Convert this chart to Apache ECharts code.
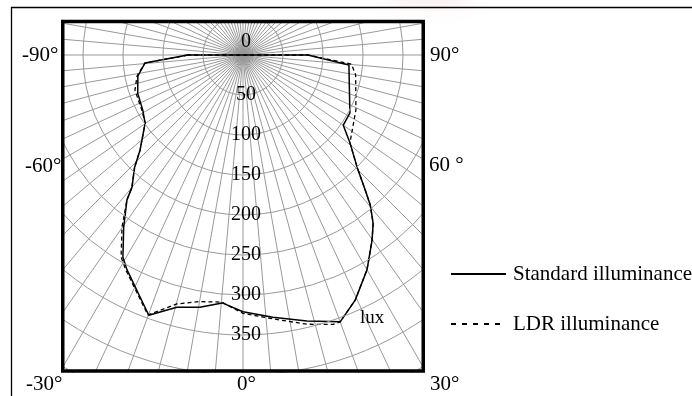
<!DOCTYPE html>
<html>
<head>
<meta charset="utf-8">
<script src="https://cdn.jsdelivr.net/npm/echarts@6/dist/echarts.min.js"></script>
<style>
html,body{margin:0;padding:0;background:#fff;}
#chart{width:692px;height:396px;}
</style>
</head>
<body>
<div id="chart"></div>
<script>
// Angles in degrees (0 = straight down, -90 = left, 90 = right); radius in lux
var standardAngle = [-90, -85.3, -78.7, -70.1, -61.2, -55.2, -47.3, -44.0, -40.0, -38.7, -34.7, -30.7, -28.4, -19.9, -14.7, -9.7, -4.8, 0, 6.5, 13.5, 20.0, 24.6, 30.0, 34.9, 37.7, 40.3, 42.1, 45.5, 50.6, 55.0, 61.5, 84.6, 90, -90];
var standardLux   = [69, 123, 134, 140, 143, 149, 175, 195, 216, 232, 262, 294, 305, 346, 326, 320, 311, 321, 330, 342, 355, 337, 310, 282, 266, 246, 228, 200, 173, 153, 152, 133, 81, 69];

var ldrAngle = [-90, -85.3, -78.8, -72.0, -61.4, -55.2, -47.3, -44.0, -40.0, -38.7, -35.1, -31.1, -28.6, -20.1, -14.9, -10.0, -4.9, 0, 6.5, 13.4, 18.5, 20.0, 24.6, 30.0, 34.9, 37.7, 40.3, 42.1, 45.5, 50.6, 64.0, 80.0, 85.2, 90, -90];
var ldrLux   = [69, 123, 135, 142, 144, 149, 175, 195, 216, 232, 263, 295, 306, 346, 322, 313, 310, 323, 332, 346, 355, 355, 337, 310, 282, 266, 246, 228, 200, 173, 157, 143, 136, 81, 69];

var seriesNames = ['Standard illuminance', 'LDR illuminance'];
var radiusTickMax = 350;
var angleLabels = ['-90°', '-60°', '-30°', '0°', '30°', '60 °', '90°'];
var unitLabel = 'lux';

function zipPolar(r, a) {
  var out = [];
  for (var i = 0; i < r.length; i++) out.push([r[i], a[i]]);
  return out;
}

var FONT = 'Liberation Serif';
var chart = echarts.init(document.getElementById('chart'), null, {renderer: 'canvas'});

function txt(s, x, y, align) {
  return {type: 'text', z: 120, style: {text: s, x: x, y: y, textAlign: align || 'left', textVerticalAlign: 'middle', font: '21px "' + FONT + '"', fill: '#000'}};
}

var option = {
  animation: false,
  backgroundColor: '#fff',
  polar: {center: [243, 55], radius: 400},
  angleAxis: {
    type: 'value', min: 0, max: 360, interval: 5, startAngle: 270, clockwise: false,
    axisLine: {show: false}, axisTick: {show: false}, axisLabel: {show: false},
    splitLine: {show: true, lineStyle: {color: '#999', width: 1}}
  },
  radiusAxis: {
    type: 'value', min: 0, max: 500, interval: 50, z: 5,
    axisLine: {show: false}, axisTick: {show: false},
    splitLine: {show: true, lineStyle: {color: '#999', width: 1}},
    axisLabel: {
      show: true, margin: 3, align: 'center', verticalAlign: 'middle',
      color: '#000', fontFamily: FONT, fontSize: 20,
      formatter: function (v) { return v === 0 ? '{z|0}' : (v <= radiusTickMax ? String(v) : ''); },
      rich: {z: {fontFamily: FONT, fontSize: 20, color: '#000', padding: [0, 0, 27, 0]}}
    }
  },
  legend: {
    orient: 'vertical', left: 445, top: 258, z: 130,
    itemWidth: 55, itemHeight: 14, itemGap: 28,
    itemStyle: {opacity: 0},
    textStyle: {fontFamily: FONT, fontSize: 21, color: '#000', lineHeight: 22, padding: [0, 0, 0, 2]},
    data: [
      {name: seriesNames[0]},
      {name: seriesNames[1], lineStyle: {type: [5, 6]}}
    ]
  },
  series: [
    {name: seriesNames[0], type: 'line', coordinateSystem: 'polar', symbol: 'none', z: 3,
     lineStyle: {color: '#000', width: 1.5, type: 'solid'}, itemStyle: {color: '#000'},
     data: zipPolar(standardLux, standardAngle)},
    {name: seriesNames[1], type: 'line', coordinateSystem: 'polar', symbol: 'none', z: 3,
     lineStyle: {color: '#000', width: 1.3, type: [4, 3]}, itemStyle: {color: '#000'},
     data: zipPolar(ldrLux, ldrAngle)}
  ],
  graphic: {elements: [
    {type: 'rect', z: 100, shape: {x: 0, y: 0, width: 692, height: 20}, style: {fill: '#fff'}},
    {type: 'rect', z: 100, shape: {x: 0, y: 0, width: 61, height: 396}, style: {fill: '#fff'}},
    {type: 'rect', z: 100, shape: {x: 425, y: 0, width: 267, height: 396}, style: {fill: '#fff'}},
    {type: 'rect', z: 100, shape: {x: 0, y: 373, width: 692, height: 23}, style: {fill: '#fff'}},
    {type: 'ellipse', z: 102, shape: {cx: 430, cy: -8, rx: 45, ry: 8}, style: {fill: 'rgba(245,205,212,0.5)', shadowBlur: 22, shadowColor: 'rgba(240,185,195,0.9)'}},
    {type: 'rect', z: 110, shape: {x: 62.75, y: 21.5, width: 360.5, height: 349.5}, style: {fill: null, stroke: '#000', lineWidth: 3.5}},
    {type: 'rect', z: 110, shape: {x: 11.5, y: 7.5, width: 900, height: 600}, style: {fill: null, stroke: '#000', lineWidth: 1.3}},
    txt(angleLabels[0], 22, 55),
    txt(angleLabels[1], 25, 166),
    txt(angleLabels[2], 26, 384),
    txt(angleLabels[3], 237, 384),
    txt(angleLabels[4], 430, 384),
    txt(angleLabels[5], 429, 165),
    txt(angleLabels[6], 430, 55),
    {type: 'text', z: 120, style: {text: unitLabel, x: 360, y: 318, textAlign: 'left', textVerticalAlign: 'middle', font: '19px "' + FONT + '"', fill: '#000'}}
  ]}
};
chart.setOption(option);
</script>
</body>
</html>
